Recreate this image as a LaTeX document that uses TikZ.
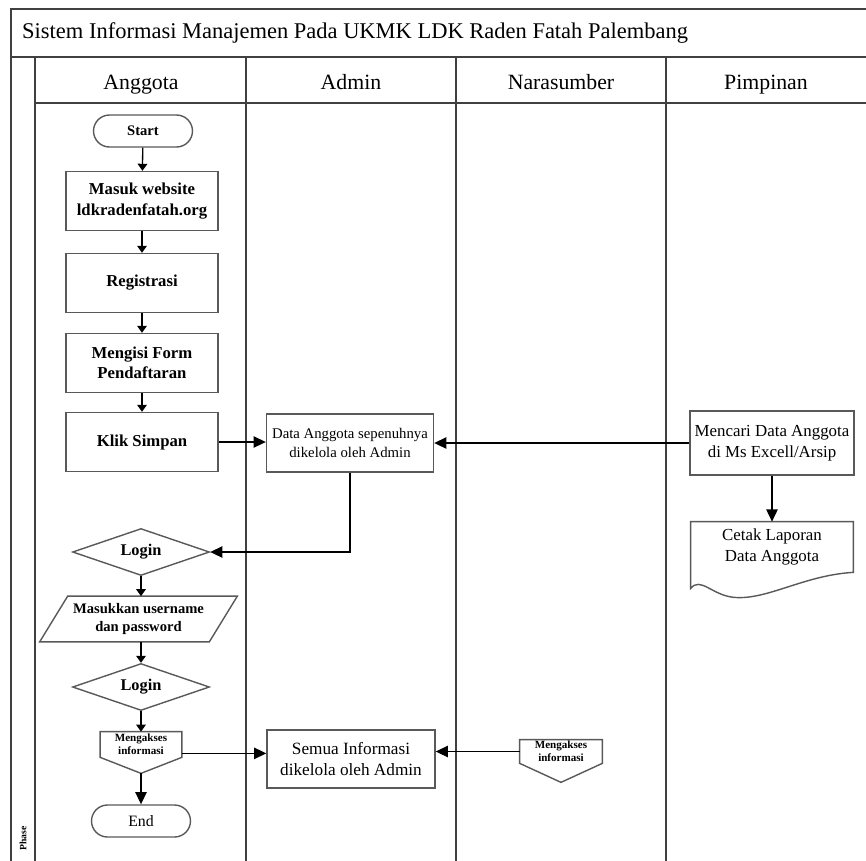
\documentclass[tikz,border=0pt]{standalone}
\usepackage{fontspec}
\setmainfont{Liberation Serif}
\usetikzlibrary{arrows.meta,shapes,calc}

\newcommand\titlefont{\fontsize{12.8}{15}\selectfont}
\newcommand\anggotafont{\fontsize{9.5}{11.5}\selectfont\bfseries}
\newcommand\adminfont{\fontsize{8.4}{10.4}\selectfont}
\newcommand\pimpinanfont{\fontsize{9.6}{11.8}\selectfont}
\newcommand\aksesfont{\fontsize{6.3}{7.4}\selectfont\bfseries}

\begin{document}
\begin{tikzpicture}[x=0.02cm,y=-0.02cm,->,>={Triangle[length=7pt,width=6.5pt]},
			lane line/.style={-,draw=black!75,line width=1.1pt},
			header node/.style={anchor=base,font=\fontsize{12.4}{14}\selectfont},
			main node/.style={rectangle,draw=black!65,line width=0.8pt,align=center,inner sep=1pt},
			term node/.style={main node,rounded corners=3.2mm,minimum width=1.98cm,minimum height=0.64cm},
			login node/.style={diamond,draw=black!65,line width=0.8pt,aspect=2.9,minimum width=2.74cm,minimum height=0.94cm,inner sep=0pt,font=\fontsize{9.3}{11}\selectfont\bfseries},
			flat node/.style={align=center,inner sep=0pt},
			outline/.style={-,draw=black!65,line width=0.8pt},
			flow/.style={->,line width=0.75pt},
			short flow/.style={-{Triangle[length=4pt,width=5.5pt]},line width=0.75pt}
			]

			\useasboundingbox (0,0) rectangle (866,860);

			\draw[lane line] (11,9) rectangle (890,890);
			\draw[lane line] (11,57) -- (890,57);
			\draw[lane line] (35,57) -- (35,890);
			\draw[lane line] (35,103) -- (890,103);
			\foreach \x in {246,456,666} {
				\draw[lane line] (\x,57) -- (\x,890);
			}

			\node[anchor=west,font=\titlefont] (title) at (16,33) {Sistem Informasi Manajemen Pada UKMK LDK Raden Fatah Palembang};
			\foreach \x/\name in {141/Anggota,351/Admin,561/Narasumber,766/Pimpinan} {
				\node[header node] (\name) at (\x,89) {\name};
			}
			\node[rotate=90,anchor=west,font=\fontsize{5.5}{6}\selectfont\bfseries] (phase) at (23,857) {Phase};

			\node[term node,font=\fontsize{8.3}{10}\selectfont\bfseries] (start) at (143,131) {Start};
			\node[main node,minimum width=3.04cm,minimum height=1.18cm,font=\anggotafont] (masuk) at (142,201) {Masuk website\\ldkradenfatah.org};
			\node[main node,minimum width=3.04cm,minimum height=1.18cm,font=\anggotafont] (registrasi) at (142,283) {Registrasi};
			\node[main node,minimum width=3.04cm,minimum height=1.18cm,font=\anggotafont] (isi) at (142,363) {Mengisi Form\\Pendaftaran};
			\node[main node,minimum width=3.04cm,minimum height=1.18cm,font=\anggotafont] (simpan) at (142,442) {Klik Simpan};

			\node[main node,minimum width=3.34cm,minimum height=1.16cm,font=\adminfont] (data) at (350,443) {Data Anggota sepenuhnya\\dikelola oleh Admin};
			\node[main node,minimum width=3.28cm,minimum height=1.28cm,font=\pimpinanfont] (mencari) at (772,443) {Mencari Data Anggota\\di Ms Excell/Arsip};
			\node[flat node,minimum width=3.24cm,minimum height=1cm,font=\pimpinanfont] (cetak) at (772,547) {Cetak Laporan\\Data Anggota};
			\draw[outline] (cetak.south west) -- (cetak.north west) -- (cetak.north east) -- (cetak.south east)
				.. controls ($(cetak.south east)+(-50,3)$) and ($(cetak.south)+(-5,28)$) .. ($(cetak.south)+(-38,25)$)
				.. controls ($(cetak.south)+(-60,23)$) and ($(cetak.south west)+(10,4)$) .. ($(cetak.south west)+(0,16)$) -- (cetak.south west);

			\node[login node] (login1) at (141,552) {Login};
			\node[flat node,minimum width=3.38cm,minimum height=0.9cm,font=\fontsize{8.3}{10}\selectfont\bfseries] (user) at (138.5,619) {Masukkan username\\dan password};
			\draw[outline] ($(user.north west)+(14,0)$) -- ($(user.north east)+(14,0)$) -- ($(user.south east)+(-14,0)$) -- ($(user.south west)+(-14,0)$) -- cycle;
			\node[login node] (login2) at (141,687) {Login};

			\node[flat node,minimum width=1.62cm,minimum height=0.5cm,font=\aksesfont] (akses1) at (141,744.5) {Mengakses\\informasi};
			\coordinate (akses1 tip) at ($(akses1.south)+(0,16)$);
			\coordinate (akses1 out) at ($(akses1.south east)+(0,-4)$);
			\draw[outline] (akses1.north west) -- (akses1.north east) -- (akses1.south east) -- (akses1 tip) -- (akses1.south west) -- cycle;
			\node[term node,font=\fontsize{9}{11}\selectfont] (end) at (141,821) {End};

			\node[main node,minimum width=3.36cm,minimum height=1.16cm,font=\fontsize{9.8}{12}\selectfont] (semua) at (351,759) {Semua Informasi\\dikelola oleh Admin};
			\node[flat node,minimum width=1.64cm,minimum height=0.46cm,font=\aksesfont] (akses2) at (561,751.5) {Mengakses\\informasi};
			\coordinate (akses2 tip) at ($(akses2.south)+(0,19)$);
			\draw[outline] (akses2.north west) -- (akses2.north east) -- (akses2.south east) -- (akses2 tip) -- (akses2.south west) -- cycle;

			\draw[short flow] (start) -- (masuk);
			\draw[short flow] (masuk) -- (registrasi);
			\draw[short flow] (registrasi) -- (isi);
			\draw[short flow] (isi) -- (simpan);
			\draw[flow] (simpan.east) -- (simpan.east -| data.west);
			\draw[flow] (mencari.west) -- (mencari.west -| data.east);
			\draw[flow] (mencari.south) -- (cetak.north);
			\draw[flow] (data.south) |- (login1.east);
			\draw[short flow] (login1.south) -- (login1.south |- user.north);
			\draw[short flow] (login2.north |- user.south) -- (login2.north);
			\draw[short flow] (login2.south) -- (akses1.north);
			\draw[flow] (akses1 tip) -- (end.north);
			\draw[flow] (akses1 out) -- (akses1 out -| semua.west);
			\draw[flow] (akses2.west) -- (akses2.west -| semua.east);
		\end{tikzpicture}
\end{document}
